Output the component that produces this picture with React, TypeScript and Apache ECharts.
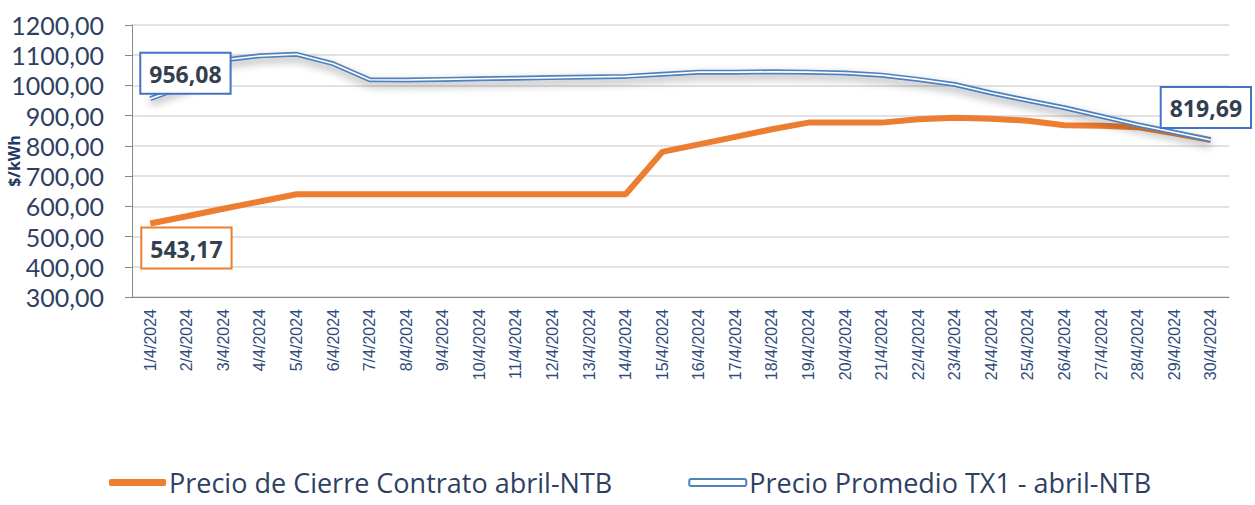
import React, { useEffect, useRef } from "react";
import * as echarts from "echarts";

const categories = [
  "1/4/2024", "2/4/2024", "3/4/2024", "4/4/2024", "5/4/2024", "6/4/2024", "7/4/2024", "8/4/2024",
  "9/4/2024", "10/4/2024", "11/4/2024", "12/4/2024", "13/4/2024", "14/4/2024", "15/4/2024",
  "16/4/2024", "17/4/2024", "18/4/2024", "19/4/2024", "20/4/2024", "21/4/2024", "22/4/2024",
  "23/4/2024", "24/4/2024", "25/4/2024", "26/4/2024", "27/4/2024", "28/4/2024", "29/4/2024",
  "30/4/2024",
];

const cierre = [
  543.17, 567, 592, 616, 640, 640, 640, 640, 640, 640, 640, 640, 640, 640, 780,
  805, 830, 855, 877, 877, 877, 888, 893, 890, 883, 868, 867, 862, 842, 819.7,
];

const promedio = [
  956.08, 1000, 1084, 1098, 1103, 1072, 1019, 1018, 1020, 1022, 1024, 1026, 1028, 1030, 1037,
  1044, 1044, 1045, 1044, 1041, 1034, 1020, 1003, 975, 950, 926, 898, 870, 845, 819.69,
];

const yTicks = { min: 300, max: 1200, interval: 100 };

const seriesNames = ["Precio de Cierre Contrato abril-NTB", "Precio Promedio TX1 - abril-NTB"];

const fmt = (v: number) => v.toFixed(2).replace(".", ",");

export default function App() {
  const ref = useRef<HTMLDivElement>(null);
  useEffect(() => {
    if (!ref.current) return;
    const chart = echarts.init(ref.current, null, { renderer: "svg" });
    const labelBase = {
      show: true,
      fontFamily: "Open Sans",
      fontWeight: "bold",
      fontSize: 23,
      color: "#333f50",
      backgroundColor: "#ffffff",
      borderWidth: 2,
      padding: [9, 8, 7, 8],
      formatter: (p: any) => fmt(p.value),
    };
    const last = promedio.length - 1;
    chart.setOption({
      animation: false,
      backgroundColor: "#ffffff",
      grid: { left: 132, right: 26, top: 25, bottom: 208, outerBoundsMode: "none", containLabel: false },
      legend: {
        bottom: 4,
        left: 104,
        itemGap: 76,
        itemWidth: 57,
        itemHeight: 7,
        textStyle: { fontFamily: "Open Sans", fontSize: 27, color: "#2f3f63", padding: [0, 0, 0, -2] },
        data: [
          { name: seriesNames[0], icon: "roundRect", itemStyle: { color: "#ed7d31" } },
          {
            name: seriesNames[1],
            icon: "roundRect",
            itemStyle: { color: "#ffffff", borderColor: "#4f81bd", borderWidth: 2 },
          },
        ],
      },
      xAxis: {
        type: "category",
        data: categories,
        boundaryGap: true,
        axisLine: { lineStyle: { color: "#888888", width: 1 } },
        axisTick: { show: false },
        axisLabel: {
          rotate: 90,
          margin: 12,
          interval: 0,
          fontFamily: "Liberation Sans",
          fontSize: 16,
          color: "#2f4b7c",
        },
      },
      yAxis: {
        type: "value",
        min: yTicks.min,
        max: yTicks.max,
        interval: yTicks.interval,
        name: "$/kWh",
        nameLocation: "middle",
        nameGap: 110,
        nameMoveOverlap: false,
        nameTextStyle: { fontFamily: "Open Sans", fontWeight: "bold", fontSize: 16, color: "#1f3864" },
        axisLine: { show: true, lineStyle: { color: "#888888" } },
        axisTick: { show: true, length: 7, lineStyle: { color: "#888888" } },
        axisLabel: {
          margin: 28,
          fontFamily: "Lato",
          fontSize: 25,
          color: "#2f3f63",
          formatter: (v: number) => fmt(v),
        },
        splitLine: { lineStyle: { color: "#d9d9d9", width: 1.5 } },
      },
      series: [
        {
          name: seriesNames[0],
          type: "line",
          data: cierre.map((v, i) =>
            i === 0
              ? {
                  value: v,
                  label: { ...labelBase, borderColor: "#ed7d31", position: [-8, 5] },
                }
              : v
          ),
          symbol: "circle",
          symbolSize: 0,
          showSymbol: true,
          label: { show: false },
          lineStyle: { color: "#ed7d31", width: 6 },
          itemStyle: { color: "#ed7d31" },
          z: 2,
        },
        {
          name: seriesNames[1],
          type: "line",
          data: promedio,
          symbol: "none",
          lineStyle: {
            color: "#4f81bd",
            width: 5,
            shadowBlur: 8,
            shadowColor: "rgba(0,0,0,0.35)",
            shadowOffsetY: 4,
          },
          itemStyle: { color: "#4f81bd" },
          z: 3,
        },
        {
          name: "_inner",
          type: "line",
          data: promedio.map((v, i) =>
            i === 0
              ? { value: v, label: { ...labelBase, borderColor: "#4472c4", position: [-9, -45] } }
              : i === last
              ? { value: v, label: { ...labelBase, borderColor: "#4472c4", position: [-49, -52] } }
              : v
          ),
          symbol: "circle",
          symbolSize: 0,
          showSymbol: true,
          label: { show: false },
          silent: true,
          lineStyle: { color: "#ffffff", width: 1.6 },
          itemStyle: { color: "#ffffff" },
          z: 4,
        },
      ],
    });
    return () => chart.dispose();
  }, []);
  return <div ref={ref} style={{ width: 1255, height: 505, position: "absolute", left: 0, top: 0 }} />;
}
